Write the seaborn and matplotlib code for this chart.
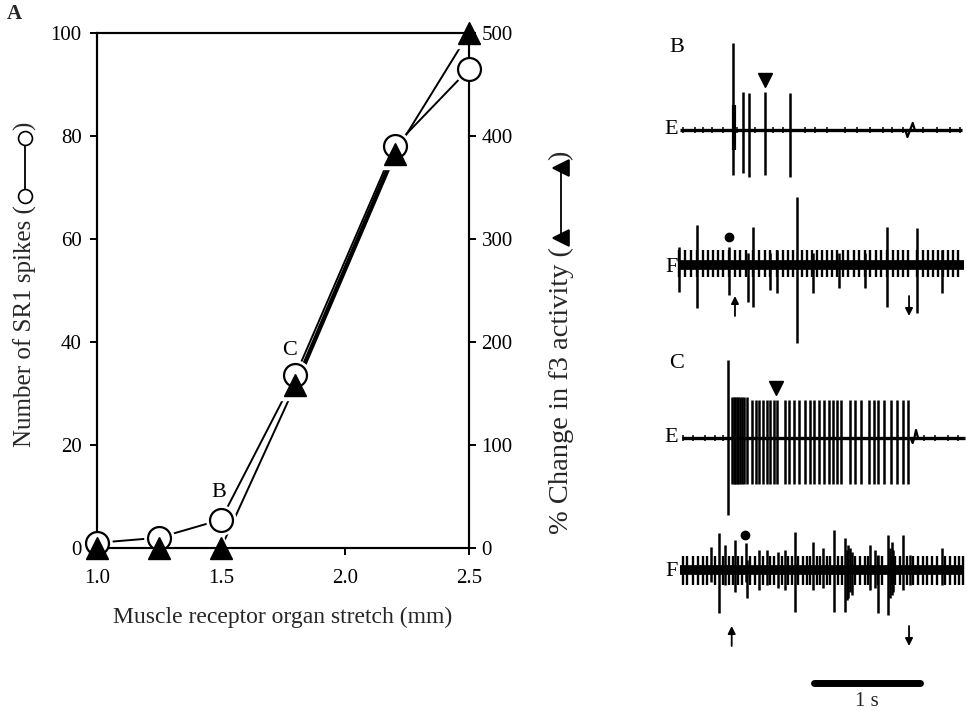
import matplotlib
matplotlib.use("Agg")
import matplotlib.pyplot as plt
from matplotlib.lines import Line2D
import seaborn as sns
import numpy as np

sns.set_theme(style="ticks")
plt.rcParams["font.family"] = ["Liberation Serif", "DejaVu Sans"]

# ---- Panel A: stretch-response curves ----
stretch_mm = [1.0, 1.25, 1.5, 1.8, 2.2, 2.5]
sr1_spikes = [1.0, 2.0, 5.5, 33.5, 78.0, 93.0]
f3_change_pct = [0, 0, 0, 158, 383, 500]
point_labels = {"B": (1.49, 10.7), "C": (1.775, 38.4)}

# ---- Panels B, C: recordings (time in s, amplitudes in trace units) ----
# B, trace E (SR1 spikes)
bE_spk_t = [0.592, 0.686, 0.745, 0.893, 1.132]
bE_spk_up = [87, 38, 37, 38, 37]
bE_spk_dn = [45, 43, 47, 45, 47]
bE_noise_t = [0.126, 0.236, 0.314, 0.393, 0.503, 0.629, 0.802, 0.975, 1.069,
              1.274, 1.368, 1.478, 1.651, 1.761, 1.887, 2.013, 2.091, 2.201,
              2.390, 2.516, 2.642, 2.736]
bE_art_t = [2.22, 2.24, 2.265, 2.29, 2.31]
bE_art_v = [0, -7, 0, 7, 0]
bE_marker_t = 0.893

# B, trace F (f3 nerve)
bF_unit_t = [0.085, 0.252, 0.557, 0.736, 0.783, 0.943, 1.006, 1.195, 1.349,
             1.594, 1.840, 2.044, 2.330, 2.563]
bF_unit_up = [18, 40, 18, 12, 38, 12, 15, 68, 12, 12, 12, 38, 37, 15]
bF_unit_dn = [27, 43, 30, 37, 42, 25, 28, 78, 28, 23, 23, 42, 48, 28]
bF_small_t = [0.088, 0.142, 0.195, 0.252, 0.308, 0.355, 0.409, 0.456, 0.503,
              0.560, 0.613, 0.660, 0.717, 0.786, 0.843, 0.896, 0.943, 1.006,
              1.069, 1.116, 1.164, 1.242, 1.289, 1.336, 1.384, 1.431, 1.478,
              1.525, 1.572, 1.635, 1.682, 1.736, 1.786, 1.840, 1.887, 1.943,
              1.987, 2.044, 2.101, 2.154, 2.201, 2.248, 2.333, 2.390, 2.437,
              2.484, 2.531, 2.579, 2.626, 2.673, 2.720]
bF_dot_t = 0.557

# C, trace E
cE_spk_t = [0.550, 0.582, 0.600, 0.615, 0.629, 0.645, 0.660, 0.676, 0.698,
            0.723, 0.770, 0.811, 0.843, 0.881, 0.918, 0.943, 0.981, 1.006,
            1.085, 1.126, 1.170, 1.220, 1.274, 1.321, 1.358, 1.409, 1.453,
            1.503, 1.535, 1.572, 1.610, 1.698, 1.745, 1.799, 1.881, 1.925,
            1.965, 2.019, 2.082, 2.138, 2.195, 2.248]
cE_spk_up = [78] + [41] * 9 + [38] * 32
cE_spk_dn = [77] + [46] * 9 + [46] * 32
cE_noise_t = [0.12, 0.22, 0.33, 0.42, 0.50, 2.40, 2.50, 2.62, 2.72]
cE_art_t = [2.27, 2.289, 2.305, 2.321, 2.34]
cE_art_v = [0, -5, 0, 8, 0]
cE_marker_t = 1.0

# C, trace F
cF_unit_t = [0.384, 0.465, 0.519, 0.613, 0.717, 0.730, 0.843, 0.912, 1.022,
             1.085, 1.179, 1.352, 1.447, 1.547, 1.651, 1.667, 1.683, 1.698,
             1.714, 1.887, 1.934, 1.965, 2.060, 2.076, 2.091, 2.107, 2.201,
             2.264, 2.563]
cF_unit_up = [23, 37, 25, 30, 27, 10, 20, 20, 18, 20, 38, 28, 22, 40, 32, 20,
              25, 22, 18, 25, 20, 15, 35, 22, 28, 20, 35, 15, 22]
cF_unit_dn = [12, 43, 15, 22, 12, 28, 20, 15, 18, 20, 42, 20, 18, 42, 42, 30,
              28, 22, 25, 20, 18, 43, 45, 28, 25, 22, 20, 15, 15]
cF_small_t = [0.119, 0.164, 0.214, 0.267, 0.314, 0.352, 0.425, 0.497, 0.560,
              0.591, 0.645, 0.676, 0.755, 0.802, 0.881, 0.943, 0.981, 1.053,
              1.116, 1.148, 1.211, 1.252, 1.289, 1.321, 1.384, 1.415, 1.478,
              1.509, 1.588, 1.619, 1.745, 1.792, 1.840, 1.871, 1.965, 1.997,
              2.091, 2.123, 2.170, 2.233, 2.296, 2.343, 2.390, 2.421, 2.469,
              2.516, 2.594, 2.642, 2.689, 2.730, 2.767]
cF_dot_t = 0.708

stim_on_off = {"B": (0.613, 2.255), "C": (0.582, 2.255)}
scale_bar_s = 1.0

# ---------------------------------------------------------------
W, H = 967, 711
fig = plt.figure(figsize=(W / 100, H / 100), dpi=100)
FS = 15

ax = fig.add_axes([97 / W, 1 - 548 / H, 372 / W, 515 / H])
ax2 = ax.twinx()

sns.lineplot(x=stretch_mm, y=sr1_spikes, ax=ax, color="black", lw=1.4,
             sort=False, zorder=1)
sns.lineplot(x=stretch_mm, y=f3_change_pct, ax=ax2, color="black", lw=1.4,
             sort=False, zorder=1)
# heavier stroke on the steep part of the f3 curve
sns.lineplot(x=stretch_mm[3:5], y=f3_change_pct[3:5], ax=ax2, color="black",
             lw=3.2, sort=False, zorder=1)

# white halos break the lines near each symbol
ax2.plot(stretch_mm, sr1_spikes, ls="none", marker="o", ms=21, mfc="white",
         mec="white", transform=ax.transData, zorder=3)
ax2.plot(stretch_mm, f3_change_pct, ls="none", marker="^", ms=21, mfc="white",
         mec="white", zorder=3)
ax2.plot(stretch_mm, sr1_spikes, ls="none", marker="o", ms=16.5, mfc="white",
         mec="black", mew=1.6, transform=ax.transData, zorder=4, clip_on=False)
ax2.plot(stretch_mm, f3_change_pct, ls="none", marker="^", ms=16,
         mfc="black", mec="black", zorder=5, clip_on=False)

ax.set_xlim(1.0, 2.5)
ax.set_ylim(0, 100)
ax2.set_ylim(0, 500)
ax.set_xticks([1.0, 1.5, 2.0, 2.5])
ax.set_xticklabels(["1.0", "1.5", "2.0", "2.5"])
ax.set_yticks(range(0, 101, 20))
ax2.set_yticks(range(0, 501, 100))
for a in (ax, ax2):
    for s in a.spines.values():
        s.set_linewidth(1.5)
        s.set_color("black")
    a.tick_params(length=5, width=1.4, labelsize=FS, colors="black",
                  direction="out", pad=4)
for s in ax2.spines.values():
    s.set_zorder(3.5)
ax.tick_params(axis="x", pad=10)
ax.tick_params(axis="y", left=True, right=False, pad=6)
ax2.tick_params(axis="y", right=True, left=False)

ax.set_xlabel("Muscle receptor organ stretch (mm)", fontsize=17, labelpad=14)
for k, (x, y) in point_labels.items():
    ax.text(x, y, k, fontsize=FS + 1, ha="center", va="center", color="black")
fig.text(14 / W, 1 - 14 / H, "A", fontsize=FS, fontweight="bold",
         ha="center", va="center")

# vertical axis titles with a drawn key symbol
renderer = fig.canvas.get_renderer()

def key_title(x_px, y_bottom_px, text, size, marker, mfc, ms, span):
    t = fig.text(x_px / W, 1 - y_bottom_px / H, text, rotation=90,
                 ha="center", va="bottom", fontsize=size)
    top = t.get_window_extent(renderer).y1
    y_lo = top + 9
    y_hi = y_lo + span
    xf = x_px / W
    line = Line2D([xf, xf], [y_lo / H, y_hi / H], transform=fig.transFigure,
                  color="black", lw=1.3, marker=marker, ms=ms, mfc=mfc,
                  mec="black", mew=1.2)
    fig.add_artist(line)
    fig.text(xf, (y_hi + 8) / H, ")", rotation=90, ha="center", va="bottom",
             fontsize=size)

key_title(25, 447, "Number of SR1 spikes (", 18, "o", "white", 10, 58)
key_title(561, 534, "% Change in f3 activity (", 20.5, "<", "black", 11, 70)

# ---- recordings panel: 1 s spans 106 px, trace units are pixels ----
rp = fig.add_axes([660 / W, 0, (W - 660) / W, 1])
rp.set_xlim(-10 / 106, (W - 670) / 106)
rp.set_ylim(-H, 0)
rp.axis("off")

def trace(base, t0, t1, lw):
    rp.plot([t0, t1], [base, base], color="black", lw=lw,
            solid_capstyle="butt")

def spikes(base, ts, up, dn, lw):
    ts = np.asarray(ts)
    rp.vlines(ts, base - np.asarray(dn), base + np.asarray(up),
              color="black", lw=lw)

yBE, yBF, yCE, yCF = -130, -265, -438, -570

# B / E
trace(yBE, 0.094, 2.755, 2.4)
spikes(yBE, bE_noise_t, [3] * len(bE_noise_t), [3] * len(bE_noise_t), 1.1)
spikes(yBE, bE_spk_t, bE_spk_up, bE_spk_dn, 1.8)
spikes(yBE, [bE_spk_t[0] + 0.01], [25], [20], 3.0)
rp.plot(bE_art_t, np.asarray(bE_art_v) + yBE, color="black", lw=1.6)
rp.plot([bE_marker_t], [yBE + 50], marker="v", ms=10, color="black")

# B / F
trace(yBF, 0.09, 2.77, 7.0)
spikes(yBF, bF_small_t, [15] * len(bF_small_t), [12] * len(bF_small_t), 1.7)
spikes(yBF, bF_unit_t, bF_unit_up, bF_unit_dn, 1.8)
rp.plot([bF_dot_t], [yBF + 28], marker="o", ms=6, color="black")

# C / E
trace(yCE, 0.11, 2.78, 2.4)
spikes(yCE, cE_noise_t, [3] * len(cE_noise_t), [3] * len(cE_noise_t), 1.1)
spikes(yCE, cE_spk_t, cE_spk_up, cE_spk_dn, 1.8)
rp.plot(cE_art_t, np.asarray(cE_art_v) + yCE, color="black", lw=1.6)
rp.plot([cE_marker_t], [yCE + 50], marker="v", ms=10, color="black")

# C / F
trace(yCF, 0.09, 2.77, 7.0)
spikes(yCF, cF_small_t, [14] * len(cF_small_t), [15] * len(cF_small_t), 1.7)
spikes(yCF, cF_unit_t, cF_unit_up, cF_unit_dn, 1.8)
rp.plot([cF_dot_t], [yCF + 35], marker="o", ms=6, color="black")

# stimulus on/off arrows
for yb, key in ((-306, "B"), (-636, "C")):
    t_on, t_off = stim_on_off[key]
    rp.annotate("", xy=(t_on, yb + 10), xytext=(t_on, yb - 10),
                arrowprops=dict(arrowstyle="-|>", color="black", lw=1.3,
                                mutation_scale=11, shrinkA=0, shrinkB=0))
    rp.annotate("", xy=(t_off, yb - 10), xytext=(t_off, yb + 10),
                arrowprops=dict(arrowstyle="-|>", color="black", lw=1.3,
                                mutation_scale=11, shrinkA=0, shrinkB=0))

# trace labels
for (lab, t, y, ha) in (("B", 0.06, -47, "center"), ("E", 0.075, yBE, "right"),
                        ("F", 0.075, yBF - 2, "right"), ("C", 0.06, -363, "center"),
                        ("E", 0.075, yCE, "right"), ("F", 0.075, yCF - 2, "right")):
    rp.text(t, y, lab, fontsize=FS + 1, ha=ha, va="center", color="black")

# time scale bar
sb0 = 1.358
rp.plot([sb0, sb0 + scale_bar_s], [-683, -683], color="black", lw=5,
        solid_capstyle="round")
rp.text(sb0 + scale_bar_s / 2, -701, "1 s", fontsize=FS, ha="center",
        va="center")

fig.savefig("out.png", dpi=100)
